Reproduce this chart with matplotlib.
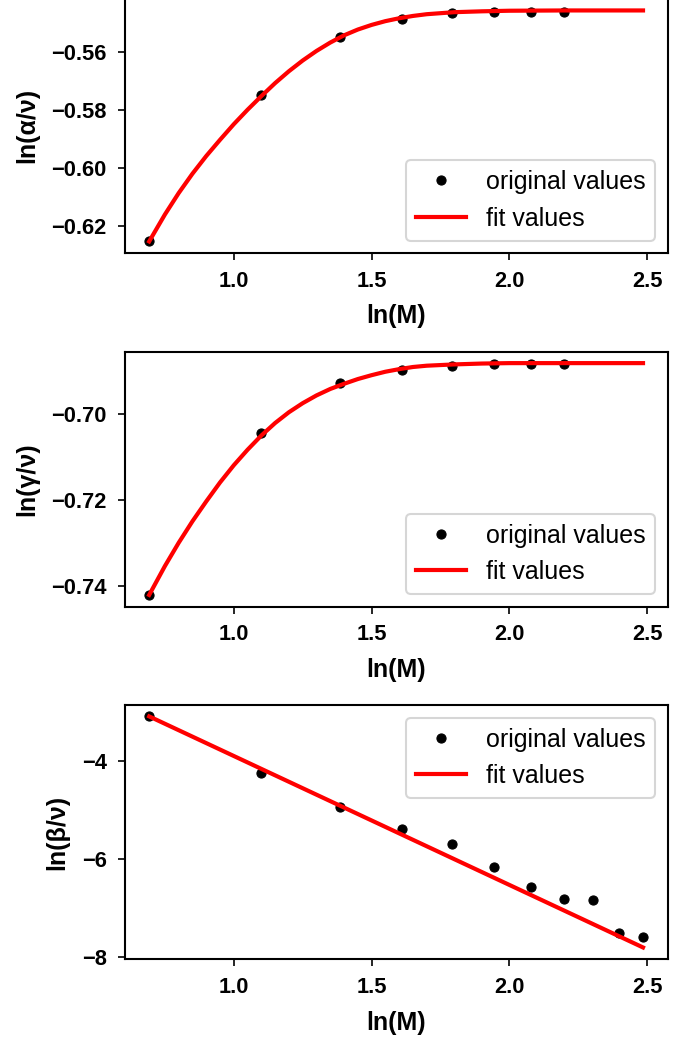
import numpy as np
import matplotlib
matplotlib.use("Agg")
import matplotlib.pyplot as plt
from matplotlib.ticker import MultipleLocator

plt.rcParams['font.family'] = ['Liberation Sans', 'DejaVu Sans']
plt.rcParams['font.weight'] = 'bold'
plt.rcParams['axes.linewidth'] = 1.0

# ---------------- data ----------------
M_small = [2, 3, 4, 5, 6, 7, 8, 9]
M_all = [2, 3, 4, 5, 6, 7, 8, 9, 10, 11, 12]
lnM_small = np.log(M_small)
lnM_all = np.log(M_all)

alpha_vals = [-0.6255, -0.5748, -0.5548, -0.5487, -0.5467, -0.5464, -0.5464, -0.5463]
gamma_vals = [-0.7420, -0.7045, -0.6929, -0.6898, -0.6889, -0.6884, -0.6884, -0.6884]
beta_vals = [-3.091, -4.244, -4.947, -5.394, -5.687, -6.161, -6.567, -6.811, -6.831, -7.496, -7.583]

fit_x = [0.693, 0.75, 0.80, 0.85, 0.90, 0.95, 1.00, 1.05, 1.10, 1.15, 1.20, 1.25,
         1.30, 1.35, 1.40, 1.45, 1.50, 1.55, 1.60, 1.65, 1.70, 1.80, 1.90, 2.00,
         2.20, 2.485]
alpha_fit = [-0.6255, -0.6162, -0.6088, -0.6021, -0.5960, -0.5904, -0.5850, -0.5800,
             -0.5753, -0.5708, -0.5667, -0.5630, -0.5597, -0.5568, -0.5543, -0.5523,
             -0.5507, -0.5494, -0.5484, -0.5476, -0.5470, -0.5463, -0.5460, -0.5458,
             -0.5457, -0.5457]
gamma_fit = [-0.7420, -0.7353, -0.7299, -0.7249, -0.7203, -0.7159, -0.7119, -0.7083,
             -0.7050, -0.7021, -0.6996, -0.6975, -0.6957, -0.6942, -0.6930, -0.6919,
             -0.6910, -0.6902, -0.6896, -0.6891, -0.6888, -0.6885, -0.6883, -0.6882,
             -0.6882, -0.6882]
beta_fit_x = [0.693, 2.485]
beta_fit = [-3.10, -7.80]

ylabels = ["ln(α/ν)", "ln(γ/ν)", "ln(β/ν)"]
xlabel = "ln(M)"
legend_labels = ["original values", "fit values"]

# ---------------- figure ----------------
W, H = 695, 1037
dpi = 150
fig = plt.figure(figsize=(W / dpi, H / dpi), dpi=dpi)

def rect(left_px, right_px, top_px, bottom_px):
    return [left_px / W, (H - bottom_px) / H, (right_px - left_px) / W, (bottom_px - top_px) / H]

ax1 = fig.add_axes(rect(124.5, 667.7, -2.0, 253.0))
ax2 = fig.add_axes(rect(124.5, 667.7, 351.7, 606.7))
ax3 = fig.add_axes(rect(124.5, 667.7, 705.0, 959.3))

panels = [
    (ax1, lnM_small, alpha_vals, fit_x, alpha_fit, ylabels[0], 'lower right', (-0.6295, -0.5414), 0.02),
    (ax2, lnM_small, gamma_vals, fit_x, gamma_fit, ylabels[1], 'lower right', (-0.74473, -0.68555), 0.02),
    (ax3, lnM_all, beta_vals, beta_fit_x, beta_fit, ylabels[2], 'upper right', (-8.041, -2.868), 2),
]

for ax, xs, ys, fx, fy, yl, loc, ylim, ystep in panels:
    ax.plot(xs, ys, 'o', color='black', markersize=4.4, markeredgewidth=0.5,
            label=legend_labels[0])
    ax.plot(fx, fy, '-', color='red', linewidth=2, label=legend_labels[1])
    ax.set_xlim(0.6034, 2.5746)
    ax.set_ylim(*ylim)
    ax.xaxis.set_major_locator(MultipleLocator(0.5))
    ax.yaxis.set_major_locator(MultipleLocator(ystep))
    ax.set_xlabel(xlabel, fontsize=12, fontweight='bold', labelpad=6)
    ax.set_ylabel(yl, fontsize=12, fontweight='bold', labelpad=6)
    ax.tick_params(labelsize=10.5, pad=5)
    for t in ax.get_xticklabels() + ax.get_yticklabels():
        t.set_fontweight('bold')
    ax.legend(loc=loc, prop={'size': 12, 'weight': 'normal'})

fig.savefig("out.png", dpi=dpi)
